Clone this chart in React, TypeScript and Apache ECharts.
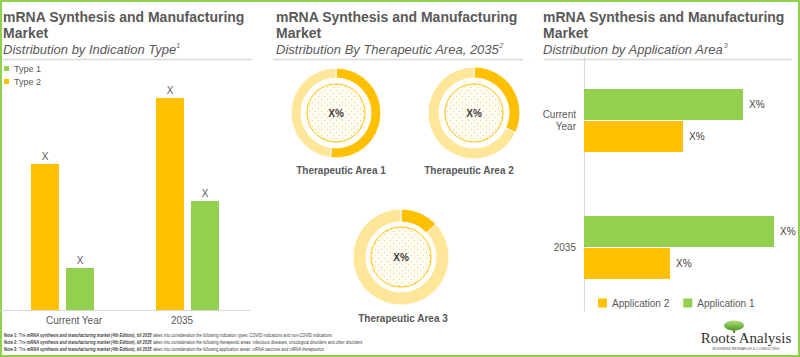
import React, { useEffect, useRef } from "react";
import * as echarts from "echarts";

const typeCategories = ["Current Year", "2035"];
const type1Values = [42, 109];
const type2Values = [146, 212];
const typeLabels = ["X", "X"];

const areaNames = ["Therapeutic Area 1", "Therapeutic Area 2", "Therapeutic Area 3"];
const areaShares = [52, 32, 13];
const areaLabels = ["X%", "X%", "X%"];

const appCategories = ["Current Year", "2035"];
const app1Values = [159, 190];
const app2Values = [99, 86];

const notes = [
  "takes into consideration the following indication types: COVID indications and non-COVID indications",
  "takes into consideration the following therapeutic areas: infectious diseases, oncological disorders and other disorders",
  "takes into consideration the following application areas: mRNA vaccines and mRNA therapeutics",
];

const ORANGE = "#FFC000";
const LIGHT = "#FFE699";
const GREEN = "#92D050";
const GRAY = "#595959";
const DARK = "#404040";
const FONT = "'Liberation Sans', Arial, sans-serif";

function makeDotPattern(): any {
  const c = document.createElement("canvas");
  c.width = 6;
  c.height = 6;
  const ctx = c.getContext("2d");
  if (ctx) {
    ctx.fillStyle = "#FFFCF2";
    ctx.fillRect(0, 0, 6, 6);
    ctx.fillStyle = "#F0CF7E";
    ctx.fillRect(0, 0, 1, 1);
    ctx.fillRect(3, 3, 1, 1);
  }
  return { image: c, repeat: "repeat" };
}

export default function App() {
  const ref = useRef<HTMLDivElement>(null);
  useEffect(() => {
    if (!ref.current) return;
    const chart = echarts.init(ref.current, undefined, { renderer: "svg" });
    const dotFill = makeDotPattern();

    const donutCenters = [
      [336, 113],
      [474, 113],
      [401, 257],
    ];
    const donutOuter = [45, 46, 48];
    const donutInner = [35, 35, 35];
    const innerR = [29, 29, 30];
    const labelPos = [
      [341, 170],
      [469, 170],
      [403, 318],
    ];

    const pieSeries: any[] = [];
    areaShares.forEach((v, i) => {
      pieSeries.push({
        type: "pie",
        name: areaNames[i] + " ring",
        center: donutCenters[i],
        radius: [donutInner[i], donutOuter[i]],
        startAngle: 90,
        label: { show: false },
        labelLine: { show: false },
        silent: true,
        itemStyle: { borderColor: "#fff", borderWidth: 1 },
        data: [
          { value: v, itemStyle: { color: ORANGE } },
          { value: 100 - v, itemStyle: { color: LIGHT } },
        ],
      });
      pieSeries.push({
        type: "pie",
        name: areaNames[i] + " center",
        center: donutCenters[i],
        radius: [0, innerR[i]],
        silent: true,
        labelLine: { show: false },
        label: {
          show: true,
          position: "center",
          formatter: areaLabels[i],
          fontSize: 10,
          fontWeight: "bold",
          color: DARK,
          fontFamily: FONT,
        },
        itemStyle: {
          color: dotFill,
          borderColor: ORANGE,
          borderWidth: 1,
        },
        data: [{ value: 1, name: areaNames[i] }],
      });
    });

    const titleBlock = (x: number, sub: string, sup: string) => [
      {
        type: "text",
        x,
        y: 9,
        style: {
          text: "mRNA Synthesis and Manufacturing\nMarket",
          font: `bold 14px ${FONT}`,
          lineHeight: 16,
          fill: GRAY,
        },
      },
      {
        type: "text",
        x,
        y: 42,
        style: {
          text: `{s|${sub}}{p|${sup}}`,
          rich: {
            s: { fontSize: 13, fontStyle: "italic", fontFamily: FONT, fill: GRAY, lineHeight: 15 },
            p: { fontSize: 7, fontStyle: "italic", fontFamily: FONT, fill: GRAY, verticalAlign: "top", lineHeight: 15 },
          },
        },
      },
    ];

    const divider = (x1: number, x2: number) => ({
      type: "line",
      shape: { x1, y1: 59.5, x2, y2: 59.5 },
      style: { stroke: "#D9D9D9", lineWidth: 1.5 },
      silent: true,
    });

    const noteRich = {
      b: { fontSize: 6, fontWeight: "bold", fontFamily: FONT, fill: DARK },
      bi: { fontSize: 6, fontWeight: "bold", fontStyle: "italic", fontFamily: FONT, fill: DARK },
      n: { fontSize: 6, fontFamily: FONT, fill: DARK },
    };
    const noteYs = [335, 342, 349];
    const noteEls = notes.map((t, i) => ({
      type: "text",
      x: 4,
      y: noteYs[i],
      scaleX: 0.67,
      style: {
        text: `{b|Note ${i + 1}: }{n|The }{bi|mRNA synthesis and manufacturing market (4th Edition), till 2035}{n| ${t}}`,
        rich: noteRich,
        fontSize: 6,
        verticalAlign: "middle",
      },
    }));

    const areaLabelEls = areaNames.map((n, i) => ({
      type: "text",
      x: labelPos[i][0],
      y: labelPos[i][1],
      style: {
        text: n,
        font: `bold 10px ${FONT}`,
        fill: GRAY,
        align: "center",
        verticalAlign: "middle",
      },
    }));

    chart.setOption({
      animation: false,
      backgroundColor: "#fff",
      textStyle: { fontFamily: FONT },
      legend: [
        {
          data: ["Type 1", "Type 2"],
          orient: "vertical",
          left: 4,
          top: 64,
          padding: 0,
          itemWidth: 5,
          itemHeight: 5,
          itemGap: 4,
          icon: "rect",
          textStyle: { fontSize: 9, color: GRAY, fontFamily: FONT },
          selectedMode: false,
        },
        {
          data: ["Application 2", "Application 1"],
          orient: "horizontal",
          left: 593,
          top: 293,
          itemWidth: 9,
          itemHeight: 9,
          itemGap: 14,
          icon: "rect",
          textStyle: { fontSize: 10, color: GRAY, fontFamily: FONT },
          selectedMode: false,
        },
      ],
      grid: [
        { left: 0, top: 60, width: 250, height: 250 },
        { left: 584, top: 57, width: 200, height: 254 },
      ],
      xAxis: [
        {
          type: "category",
          gridIndex: 0,
          data: typeCategories,
          axisLine: { lineStyle: { color: "#D9D9D9", width: 1.2 } },
          axisTick: { show: false },
          axisLabel: {
            fontSize: 10,
            color: GRAY,
            margin: 5,
            formatter: (v: string) => (v === "Current Year" ? `{a|${v}}` : `{b|${v}}`),
            rich: {
              a: { fontSize: 10, color: GRAY, padding: [0, 0, 0, 23] },
              b: { fontSize: 10, color: GRAY, padding: [0, 11, 0, 0] },
            },
          },
        },
        {
          type: "value",
          gridIndex: 1,
          min: 0,
          max: 200,
          show: false,
        },
      ],
      yAxis: [
        {
          type: "value",
          gridIndex: 0,
          min: 0,
          max: 250,
          show: false,
        },
        {
          type: "category",
          gridIndex: 1,
          data: appCategories,
          inverse: true,
          axisLine: { lineStyle: { color: "#D9D9D9", width: 1.2 } },
          axisTick: { show: false },
          axisLabel: {
            fontSize: 10,
            color: GRAY,
            margin: 8,
            lineHeight: 12,
            formatter: (v: string) => v.replace(" ", "\n"),
          },
        },
      ],
      series: [
        {
          type: "bar",
          name: "Type 2",
          xAxisIndex: 0,
          yAxisIndex: 0,
          data: type2Values,
          barWidth: 28,
          barGap: "25%",
          itemStyle: { color: ORANGE },
          label: { show: true, position: "top", distance: 3, formatter: (p: any) => typeLabels[p.dataIndex], fontSize: 10, color: GRAY },
        },
        {
          type: "bar",
          name: "Type 1",
          xAxisIndex: 0,
          yAxisIndex: 0,
          data: type1Values,
          barWidth: 28,
          barGap: "25%",
          itemStyle: { color: GREEN },
          label: { show: true, position: "top", distance: 3, formatter: (p: any) => typeLabels[p.dataIndex], fontSize: 10, color: GRAY },
        },
        {
          type: "bar",
          name: "Application 1",
          xAxisIndex: 1,
          yAxisIndex: 1,
          data: app1Values,
          barWidth: 31,
          barGap: "3%",
          itemStyle: { color: GREEN },
          label: { show: true, position: "right", distance: 6, formatter: "X%", fontSize: 10, color: DARK },
        },
        {
          type: "bar",
          name: "Application 2",
          xAxisIndex: 1,
          yAxisIndex: 1,
          data: app2Values,
          barWidth: 31,
          barGap: "3%",
          itemStyle: { color: ORANGE },
          label: { show: true, position: "right", distance: 6, formatter: "X%", fontSize: 10, color: DARK },
        },
        ...pieSeries,
      ],
      graphic: [
        {
          type: "rect",
          shape: { x: 1, y: 1, width: 798, height: 355 },
          style: { fill: "none", stroke: GREEN, lineWidth: 2 },
          silent: true,
        },
        ...titleBlock(3, "Distribution by Indication Type", "1"),
        ...titleBlock(276, "Distribution By Therapeutic Area, 2035", "2"),
        ...titleBlock(543, "Distribution by Application Area", "3"),
        divider(3, 252),
        divider(273, 523),
        divider(544, 792),
        ...areaLabelEls,
        ...noteEls,
        {
          type: "ellipse",
          shape: { cx: 734, cy: 325.5, rx: 10, ry: 5 },
          style: {
            fill: new echarts.graphic.LinearGradient(0, 0, 0, 1, [
              { offset: 0, color: "#B5E07A" },
              { offset: 1, color: "#4C9A2A" },
            ]),
          },
        },
        {
          type: "rect",
          shape: { x: 733, y: 329, width: 2.2, height: 4 },
          style: { fill: "#6B8E3A" },
        },
        {
          type: "text",
          x: 746,
          y: 338,
          style: {
            text: "Roots Analysis",
            font: "15px 'Liberation Serif', 'Times New Roman', serif",
            fill: "#333",
            align: "center",
            verticalAlign: "middle",
          },
        },
        {
          type: "text",
          x: 746,
          y: 348.5,
          style: {
            text: "BUSINESS RESEARCH & CONSULTING",
            font: `3.6px ${FONT}`,
            fill: "#555",
            align: "center",
            verticalAlign: "middle",
          },
        },
      ],
    });
    return () => chart.dispose();
  }, []);
  return (
    <div
      ref={ref}
      style={{ position: "fixed", left: 0, top: 0, width: 800, height: 357, background: "#fff" }}
    />
  );
}
